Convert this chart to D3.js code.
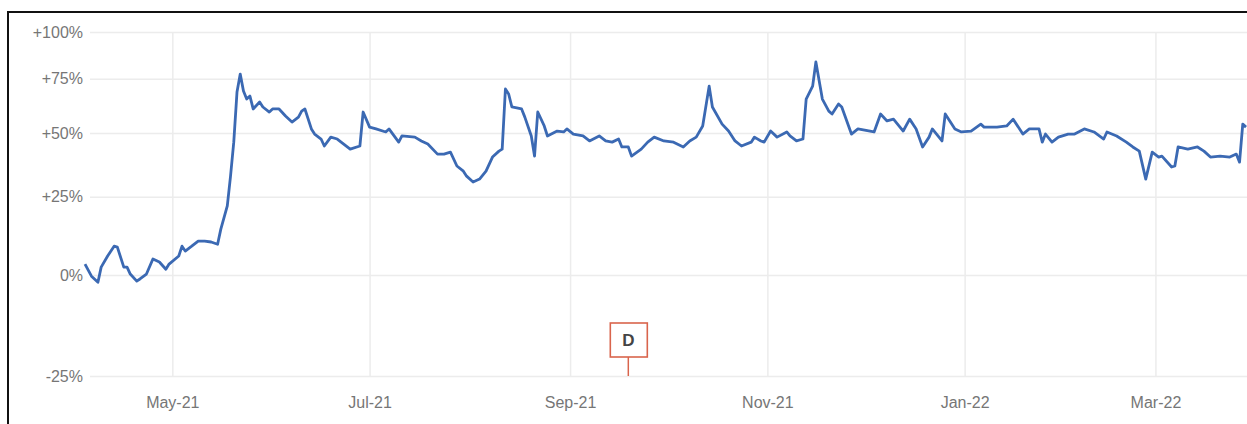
<!DOCTYPE html>
<html>
<head>
<meta charset="utf-8">
<script src="https://cdn.jsdelivr.net/npm/d3@7"></script>
<style>
  body { margin: 0; background: #fff; }
  svg { display: block; font-family: "Liberation Sans", Arial, sans-serif; }
  .grid line { stroke: #ececec; stroke-width: 1.5; }
  .grid text { fill: #767676; font-size: 16px; }
  .grid .domain { display: none; }
</style>
</head>
<body>
<svg width="1247" height="424"></svg>
<script>
// performance since start, percent
const dates = [
  '2021-04-04','2021-04-06','2021-04-08','2021-04-09','2021-04-11','2021-04-13','2021-04-14','2021-04-16',
  '2021-04-17','2021-04-18','2021-04-20','2021-04-21','2021-04-23','2021-04-25','2021-04-27','2021-04-29',
  '2021-04-30','2021-05-03','2021-05-04','2021-05-05','2021-05-07','2021-05-09','2021-05-11','2021-05-13',
  '2021-05-15','2021-05-16','2021-05-18','2021-05-19','2021-05-20','2021-05-21','2021-05-22','2021-05-23',
  '2021-05-24','2021-05-25','2021-05-26','2021-05-28','2021-05-29','2021-05-31','2021-06-01','2021-06-03',
  '2021-06-05','2021-06-07','2021-06-09','2021-06-10','2021-06-11','2021-06-13','2021-06-14','2021-06-16',
  '2021-06-17','2021-06-19','2021-06-21','2021-06-23','2021-06-25','2021-06-28','2021-06-29','2021-07-01',
  '2021-07-03','2021-07-06','2021-07-07','2021-07-10','2021-07-11','2021-07-15','2021-07-17','2021-07-19',
  '2021-07-22','2021-07-24','2021-07-26','2021-07-28','2021-07-30','2021-07-31','2021-08-02','2021-08-04',
  '2021-08-06','2021-08-08','2021-08-10','2021-08-11','2021-08-12','2021-08-13','2021-08-14','2021-08-17',
  '2021-08-18','2021-08-20','2021-08-21','2021-08-22','2021-08-24','2021-08-25','2021-08-28','2021-08-30',
  '2021-08-31','2021-09-02','2021-09-05','2021-09-07','2021-09-10','2021-09-12','2021-09-14','2021-09-16',
  '2021-09-17','2021-09-19','2021-09-20','2021-09-23','2021-09-25','2021-09-27','2021-09-30','2021-10-03',
  '2021-10-06','2021-10-08','2021-10-10','2021-10-12','2021-10-14','2021-10-15','2021-10-18','2021-10-20',
  '2021-10-22','2021-10-24','2021-10-27','2021-10-28','2021-10-30','2021-10-31','2021-11-02','2021-11-04',
  '2021-11-07','2021-11-08','2021-11-10','2021-11-12','2021-11-13','2021-11-15','2021-11-16','2021-11-18',
  '2021-11-20','2021-11-21','2021-11-23','2021-11-24','2021-11-27','2021-11-29','2021-12-04','2021-12-06',
  '2021-12-08','2021-12-10','2021-12-13','2021-12-15','2021-12-17','2021-12-19','2021-12-21','2021-12-22',
  '2021-12-25','2021-12-26','2021-12-29','2021-12-31','2022-01-03','2022-01-06','2022-01-07','2022-01-11',
  '2022-01-14','2022-01-16','2022-01-19','2022-01-21','2022-01-24','2022-01-25','2022-01-26','2022-01-28',
  '2022-01-30','2022-02-02','2022-02-04','2022-02-07','2022-02-10','2022-02-13','2022-02-14','2022-02-17',
  '2022-02-20','2022-02-22','2022-02-24','2022-02-26','2022-02-28','2022-03-02','2022-03-03','2022-03-06',
  '2022-03-07','2022-03-08','2022-03-11','2022-03-14','2022-03-16','2022-03-18','2022-03-21','2022-03-24',
  '2022-03-26','2022-03-27','2022-03-28','2022-03-29'
];

const values = [
  3.2, -0.3, -2.0, 2.3, 5.6, 8.6, 8.3, 2.3,
  2.3, 0.3, -1.7, -1.1, 0.3, 4.7, 3.8, 1.7,
  3.2, 5.6, 8.6, 7.1, 8.6, 10.2, 10.2, 9.9,
  9.2, 14.0, 21.8, 32.6, 46.1, 68.5, 77.4, 69.0,
  65.2, 66.6, 60.6, 63.8, 61.5, 59.2, 60.6, 60.6,
  57.4, 54.7, 56.9, 59.6, 60.6, 51.7, 49.5, 47.4,
  44.5, 48.2, 47.4, 45.3, 43.2, 44.5, 59.2, 52.5,
  51.7, 50.4, 51.7, 46.1, 48.7, 48.2, 46.6, 45.3,
  41.2, 41.2, 42.0, 36.5, 34.5, 32.6, 30.4, 31.5,
  34.5, 40.0, 42.4, 43.2, 70.0, 67.6, 61.5, 60.6,
  56.9, 48.7, 40.4, 59.2, 53.0, 48.7, 50.8, 50.4,
  51.7, 49.5, 48.7, 46.6, 48.7, 46.6, 46.1, 47.4,
  44.1, 44.1, 40.4, 43.2, 46.1, 48.2, 46.6, 46.1,
  44.1, 46.6, 48.2, 53.0, 71.4, 61.5, 53.8, 50.8,
  46.6, 44.5, 46.1, 48.2, 46.6, 46.1, 50.8, 48.2,
  50.4, 48.7, 46.6, 47.4, 65.2, 71.4, 83.6, 65.2,
  59.6, 58.3, 62.9, 61.5, 49.5, 51.7, 50.4, 58.3,
  55.2, 56.0, 50.8, 56.0, 51.7, 44.1, 48.2, 51.7,
  46.6, 58.3, 51.7, 50.4, 50.8, 53.8, 52.5, 52.5,
  53.0, 56.0, 49.5, 51.7, 51.7, 46.1, 49.5, 46.1,
  48.2, 49.5, 49.5, 51.7, 50.4, 47.4, 50.4, 48.7,
  46.1, 44.1, 42.4, 31.5, 42.0, 40.0, 40.4, 36.1,
  36.5, 44.1, 43.2, 44.1, 42.4, 40.0, 40.4, 40.0,
  41.2, 38.0, 53.8, 52.5
];

const yTicks = [-25, 0, 25, 50, 75, 100];
const yTickLabels = ['-25%', '0%', '+25%', '+50%', '+75%', '+100%'];

const xTicks = ['2021-05-01', '2021-07-01', '2021-09-01', '2021-11-01', '2022-01-01', '2022-03-01'];
const xTickLabels = ['May-21', 'Jul-21', 'Sep-21', 'Nov-21', 'Jan-22', 'Mar-22'];

const markerDates = ['2021-09-19'];
const markerLabels = ['D'];

const parse = d3.utcParse('%Y-%m-%d');
const data = dates.map((d, i) => ({ date: parse(d), value: values[i] }));

const svg = d3.select('svg');

// outer frame (runs off the right and bottom edges)
svg.append('rect')
  .attr('x', 8).attr('y', 12)
  .attr('width', 1300).attr('height', 500)
  .attr('fill', 'none')
  .attr('stroke', '#111')
  .attr('stroke-width', 2);

const plotTop = 32, plotBottom = 376, plotLeft = 90, plotRight = 1260;

const x = d3.scaleUtc()
  .domain([parse('2021-04-04'), parse('2022-03-29')])
  .range([85, 1246]);

// log of growth factor, so the % steps shrink towards the top
const y = d3.scaleLog()
  .domain([0.75, 2])
  .range([plotBottom, plotTop]);

svg.append('g')
  .attr('class', 'grid')
  .attr('transform', `translate(0,${plotBottom})`)
  .call(d3.axisBottom(x)
    .tickValues(xTicks.map(parse))
    .tickFormat((d, i) => xTickLabels[i])
    .tickSize(-(plotBottom - plotTop))
    .tickPadding(21))
  .call(g => g.selectAll('line').attr('stroke', '#eeeeee'));

svg.append('g')
  .attr('class', 'grid')
  .attr('transform', `translate(${plotLeft},0)`)
  .call(d3.axisLeft(y)
    .tickValues(yTicks.map(v => 1 + v / 100))
    .tickFormat((d, i) => yTickLabels[i])
    .tickSize(-(plotRight - plotLeft))
    .tickPadding(7));

const line = d3.line()
  .x(d => x(d.date))
  .y(d => y(1 + d.value / 100));

svg.append('path')
  .datum(data)
  .attr('fill', 'none')
  .attr('stroke', '#3b69b3')
  .attr('stroke-width', 2.8)
  .attr('stroke-linejoin', 'round')
  .attr('d', line);

// event flag
const flags = svg.selectAll('.flag')
  .data(markerDates.map((d, i) => ({ date: parse(d), label: markerLabels[i] })))
  .enter().append('g')
  .attr('class', 'flag')
  .attr('transform', d => `translate(${x(d.date)},0)`);

flags.append('line')
  .attr('y1', 357).attr('y2', plotBottom)
  .attr('stroke', '#d9644c').attr('stroke-width', 1.5);

flags.append('rect')
  .attr('x', -18).attr('y', 323)
  .attr('width', 37).attr('height', 34)
  .attr('fill', '#fff')
  .attr('stroke', '#d9644c').attr('stroke-width', 1.6);

flags.append('text')
  .attr('y', 346)
  .attr('text-anchor', 'middle')
  .attr('font-size', 17)
  .attr('font-weight', 'bold')
  .attr('fill', '#444')
  .text(d => d.label);
</script>
</body>
</html>
